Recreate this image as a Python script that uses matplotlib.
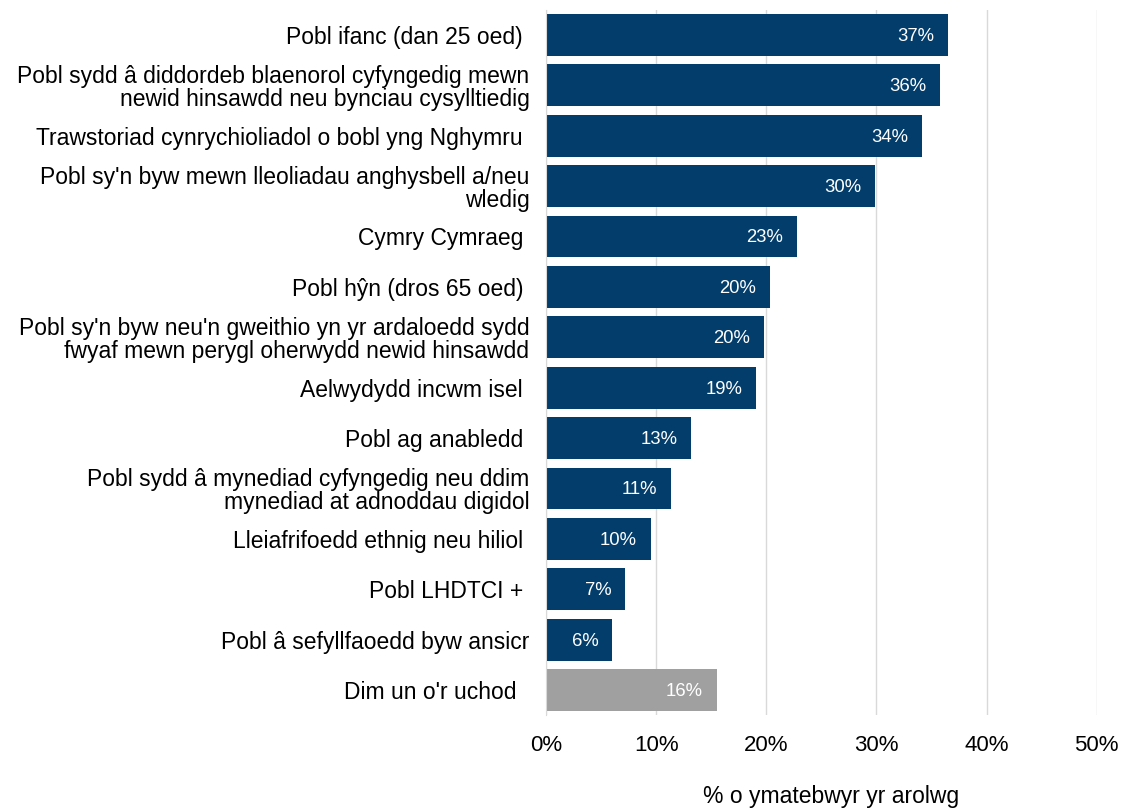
import matplotlib

matplotlib.use("Agg")
import matplotlib.pyplot as plt
from matplotlib.ticker import FuncFormatter

plt.rcParams["font.family"] = ["Liberation Sans", "DejaVu Sans"]

categories = [
    "Pobl ifanc (dan 25 oed) ",
    "Pobl sydd â diddordeb blaenorol cyfyngedig mewn\nnewid hinsawdd neu bynciau cysylltiedig",
    "Trawstoriad cynrychioliadol o bobl yng Nghymru ",
    "Pobl sy'n byw mewn lleoliadau anghysbell a/neu\nwledig",
    "Cymry Cymraeg ",
    "Pobl hŷn (dros 65 oed) ",
    "Pobl sy'n byw neu'n gweithio yn yr ardaloedd sydd\nfwyaf mewn perygl oherwydd newid hinsawdd",
    "Aelwydydd incwm isel ",
    "Pobl ag anabledd ",
    "Pobl sydd â mynediad cyfyngedig neu ddim\nmynediad at adnoddau digidol",
    "Lleiafrifoedd ethnig neu hiliol ",
    "Pobl LHDTCI + ",
    "Pobl â sefyllfaoedd byw ansicr",
    "Dim un o'r uchod  ",
]
values = [0.365, 0.358, 0.341, 0.299, 0.228, 0.203, 0.198, 0.191,
          0.132, 0.113, 0.095, 0.072, 0.060, 0.155]
value_labels = ["37%", "36%", "34%", "30%", "23%", "20%", "20%", "19%",
                "13%", "11%", "10%", "7%", "6%", "16%"]

NAVY = "#023D6B"
GREY = "#A0A0A0"
colors = [NAVY] * (len(values) - 1) + [GREY]

fig = plt.figure(figsize=(11.26, 8.10), dpi=100)
ax = fig.add_axes([0.485, 0.117, 0.489, 0.871])

ypos = list(range(len(values)))
bars = ax.barh(ypos, values, height=0.83, color=colors, zorder=3)
ax.set_ylim(len(values) - 0.5, -0.5)
ax.set_xlim(0, 0.5)

for bar, lab in zip(bars, value_labels):
    ax.annotate(lab, (bar.get_width(), bar.get_y() + bar.get_height() / 2),
                xytext=(-10, -1), textcoords="offset points",
                ha="right", va="center", color="white", fontsize=13.3, zorder=4)

ax.set_yticks(ypos)
ax.set_yticklabels(categories, fontsize=16.5, linespacing=1.0)
ax.tick_params(axis="y", length=0, pad=12)
ax.set_xticks([0, 0.1, 0.2, 0.3, 0.4, 0.5])
ax.xaxis.set_major_formatter(FuncFormatter(lambda v, _: f"{v * 100:.0f}%"))
ax.tick_params(axis="x", length=0, pad=14, labelsize=16)

ax.grid(axis="x", color="#D9D9D9", linewidth=1, zorder=0)
for side in ["top", "right", "bottom"]:
    ax.spines[side].set_visible(False)
ax.spines["left"].set_color("#D9D9D9")
ax.spines["left"].set_zorder(5)

fig.text(831 / 1126, 1 - 797 / 810, "% o ymatebwyr yr arolwg",
         ha="center", va="center", fontsize=16.5)

fig.savefig("out.png", dpi=100)
